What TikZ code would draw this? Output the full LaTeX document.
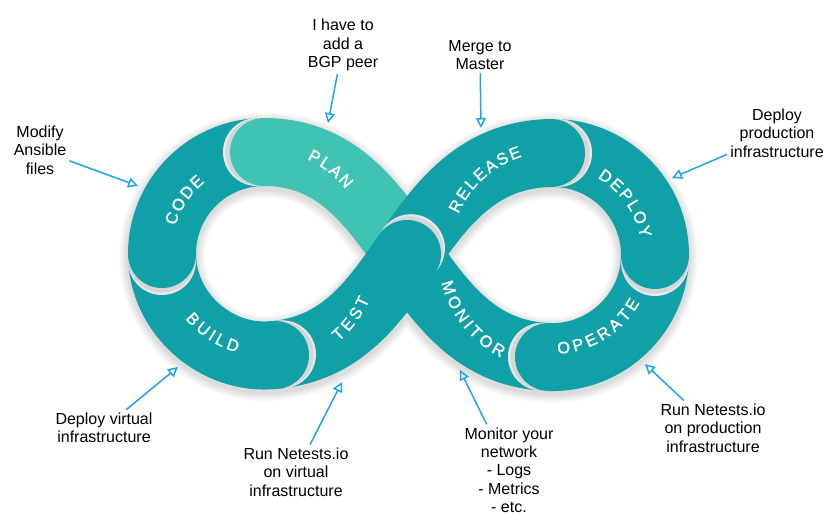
\documentclass[tikz,border=0pt]{standalone}
\usepackage{fontspec}
\setmainfont{Liberation Sans}
\newfontfamily\lblfam[WordSpace=0.6,FakeBold=1.2]{Liberation Sans}
\usetikzlibrary{arrows.meta,decorations.text,calc}
\definecolor{tealdark}{HTML}{10A1A8}
\definecolor{teallight}{HTML}{40C3B2}
\definecolor{callblue}{HTML}{1CA3EC}
\newcommand{\lblfont}{\lblfam\fontsize{16.5}{18}\selectfont}
\newcommand{\notefont}{\fontsize{16}{18.3}\selectfont}
\begin{document}
\begin{tikzpicture}[x=1pt,y=1pt,
    band/.style={line width=68pt},
    halo/.style={fill=black!#1},
    note/.style={font=\notefont,align=center,inner sep=3pt},
    callout/.style={draw=callblue,line width=1.5pt,-{Triangle[open,length=10pt,width=10pt]}},
    lbl/.style={decorate,decoration={text along path,text={|\lblfont\color{white}|#1},text align=center,raise=-5.9pt}}]
    \useasboundingbox (0,0) rectangle (838,-522);
    \coordinate (lc) at (264,-254);
    \coordinate (rc) at (553,-255);
    \coordinate (ltop) at (264,-152);
    \coordinate (lleft) at (162,-254);
    \coordinate (lbot) at (275,-355);
    \coordinate (m) at (407,-254);
    \coordinate (rtop) at (551,-153);
    \coordinate (rright) at (655,-255);
    \coordinate (rbot) at (549,-357);
    % soft shadow under the loop
    \begin{scope}[transform canvas={yshift=-3pt}]
        \foreach \w in {70,72,...,86}
            \draw [line width=\w pt,black,opacity=0.015] (ltop) to[out=0,in=124] (m) to[out=-56,in=178] (rbot) to[out=-2,in=-90] (rright) to[out=90,in=1] (rtop) to[out=181,in=56] (m) to[out=236,in=6] (lbot) to[out=186,in=-90] (lleft) to[out=90,in=180] (ltop);
    \end{scope}
    \draw [band,teallight] (ltop) to[out=0,in=124] (m);
    \draw [band,tealdark] (m) to[out=-56,in=178] (rbot) to[out=-2,in=-90] (rright) to[out=90,in=1] (rtop) to[out=181,in=56] (m) to[out=236,in=6] (lbot) to[out=186,in=-90] (lleft) to[out=90,in=180] (ltop);
    % rounded ends over the next piece
    \foreach \p/\a/\c in {ltop/180/teallight,lleft/-90/tealdark,lbot/6/tealdark,m/56/tealdark,rtop/0/tealdark,rright/-90/tealdark,rbot/178/tealdark}{
        \fill [halo=9] ($(\p)+(\a:7)$) circle[radius=34];
        \fill [halo=16] ($(\p)+(\a:4.5)$) circle[radius=34];
        \fill [\c] (\p) circle[radius=34];
    }
    {\lblfont
    \path [lbl={C O D E}] ($(lc)+(191:99)$) arc[start angle=191,end angle=101,radius=99];
    \path [lbl={P L A N}] ($(lc)+(97:110)$) arc[start angle=97,end angle=7,radius=110];
    \path [lbl={B U I L D}] ($(lc)+(192:96)$) arc[start angle=192,end angle=282,radius=96];
    \path [lbl={T E S T}] ($(lc)+(-81.5:109)$) arc[start angle=-81.5,end angle=8.5,radius=109];
    \path [lbl={R E L E A S E}] ($(rc)+(177:109)$) arc[start angle=177,end angle=87,radius=109];
    \path [lbl={D E P L O Y}] ($(rc)+(80.5:95)$) arc[start angle=80.5,end angle=-9.5,radius=95];
    \path [lbl={O P E R A T E}] ($(rc)+(-103:93)$) arc[start angle=-103,end angle=-13,radius=93];
    \path [lbl={M O N I T O R}] ($(rc)+(173.5:109)$) arc[start angle=173.5,end angle=263.5,radius=109];
    }
    % notes
    \node [note] (bgp) at (343,-45) {I have to\\add a\\BGP peer};
    \node [note] (ansible) at (40,-150) {Modify\\Ansible\\files};
    \node [note] (merge) at (480,-55) {Merge to\\Master};
    \node [note] (prod) at (777,-133) {Deploy\\production\\infrastructure};
    \node [note] (virt) at (104,-428) {Deploy virtual\\infrastructure};
    \node [note] (runvirt) at (296,-472) {Run Netests.io\\on virtual\\infrastructure};
    \node [note] (mon) at (509,-470) {Monitor your\\network\\- Logs\\- Metrics\\- etc.};
    \node [note] (runprod) at (713,-428) {Run Netests.io\\on production\\infrastructure};
    \coordinate (bgptip) at (328,-123);
    \coordinate (ansibletip) at (138,-186);
    \coordinate (mergetip) at (481,-128);
    \coordinate (prodtip) at (672,-178);
    \coordinate (virttip) at (178,-367);
    \coordinate (runvirttip) at (342,-382);
    \coordinate (montip) at (460,-370);
    \coordinate (runprodtip) at (645,-364);
    \foreach \n in {bgp,ansible,merge,prod,virt,runvirt,mon,runprod}
        \draw [callout] (\n) -- (\n tip);
\end{tikzpicture}
\end{document}
